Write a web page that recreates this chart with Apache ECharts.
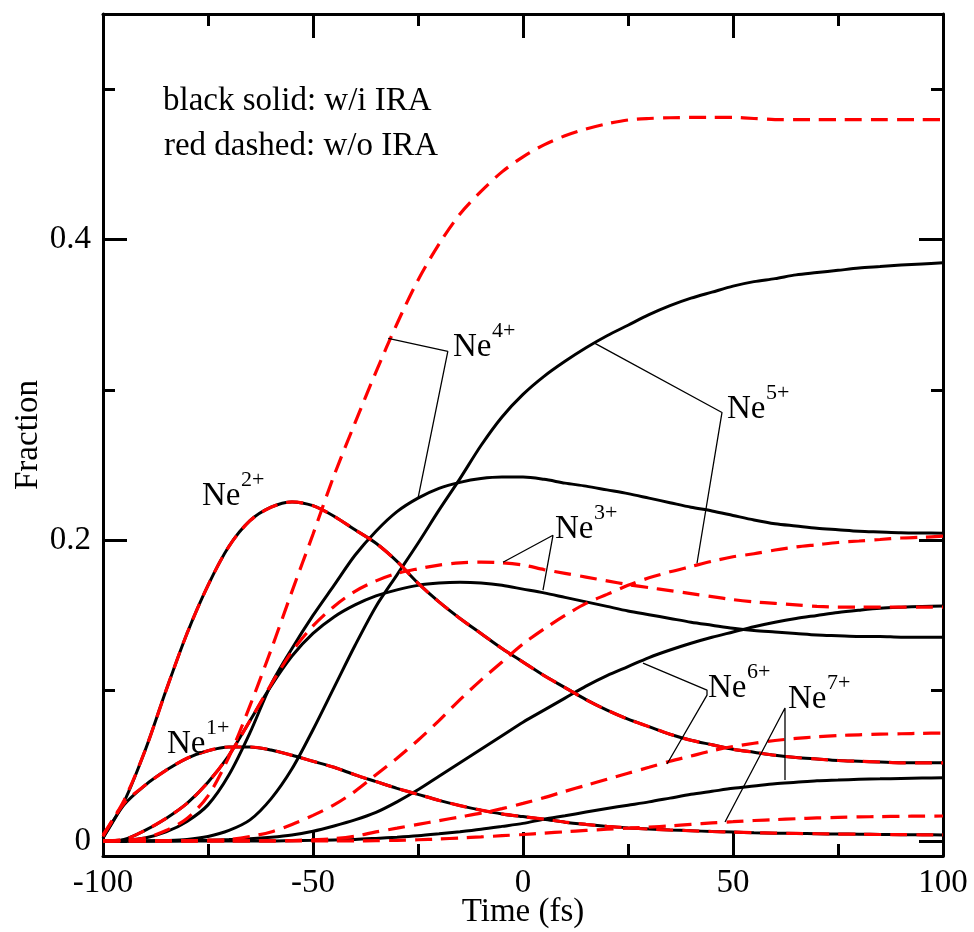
<!DOCTYPE html>
<html>
<head>
<meta charset="utf-8">
<script src="https://cdn.jsdelivr.net/npm/echarts@6/dist/echarts.min.js"></script>
<style>
html,body{margin:0;padding:0;background:#fff;}
#chart{width:974px;height:932px;}
</style>
</head>
<body>
<div id="chart"></div>
<script>
// ---------- data (time in fs, fraction) ----------
const time = [-100,-95,-90,-85,-80,-75,-70,-65,-60,-55,-50,-45,-40,-35,-30,-25,-20,-15,-10,-5,0,5,10,15,20,25,30,35,40,45,50,55,60,65,70,75,80,85,90,95,100];

// black solid: with IRA
const ne1WithIRA = [0.002,0.024,0.037,0.047,0.055,0.060,0.0625,0.0625,0.0605,0.057,0.053,0.049,0.044,0.0395,0.035,0.031,0.027,0.0235,0.0205,0.018,0.0162,0.0145,0.0125,0.011,0.0097,0.0087,0.0079,0.0073,0.0068,0.0063,0.0059,0.0055,0.0052,0.0050,0.0048,0.0046,0.0045,0.0043,0.0042,0.0041,0.0040];
const ne2WithIRA = [0.002,0.026,0.060,0.100,0.138,0.170,0.196,0.213,0.222,0.2255,0.223,0.216,0.207,0.198,0.186,0.1715,0.159,0.148,0.138,0.128,0.119,0.110,0.102,0.094,0.087,0.081,0.076,0.071,0.067,0.064,0.061,0.059,0.057,0.0555,0.0545,0.0535,0.053,0.0525,0.052,0.052,0.052];
const ne3WithIRA = [0,0.001,0.007,0.015,0.025,0.039,0.057,0.080,0.103,0.123,0.138,0.149,0.157,0.163,0.167,0.170,0.1715,0.172,0.1715,0.170,0.1675,0.165,0.162,0.159,0.156,0.153,0.1505,0.148,0.1455,0.1435,0.1415,0.140,0.139,0.138,0.137,0.1365,0.136,0.136,0.1355,0.1355,0.1355];
const ne4WithIRA = [0,0.0005,0.002,0.006,0.013,0.024,0.044,0.072,0.104,0.128,0.150,0.170,0.190,0.206,0.219,0.228,0.2345,0.2385,0.241,0.242,0.242,0.2405,0.238,0.236,0.2335,0.231,0.228,0.225,0.222,0.2195,0.2165,0.2135,0.211,0.2095,0.208,0.207,0.206,0.2055,0.205,0.2048,0.2047];
const ne5WithIRA = [0,0,0,0.0003,0.001,0.003,0.007,0.014,0.028,0.048,0.074,0.102,0.130,0.156,0.177,0.198,0.220,0.241,0.263,0.282,0.297,0.309,0.319,0.328,0.336,0.343,0.350,0.356,0.361,0.365,0.369,0.372,0.374,0.3765,0.378,0.3795,0.381,0.382,0.383,0.3838,0.3845];
const ne6WithIRA = [0,0,0,0,0.0002,0.0005,0.0009,0.0015,0.0025,0.004,0.0065,0.010,0.014,0.019,0.026,0.034,0.043,0.052,0.061,0.070,0.079,0.087,0.095,0.103,0.110,0.116,0.122,0.127,0.1315,0.1355,0.139,0.1425,0.1455,0.148,0.150,0.152,0.1535,0.1548,0.1555,0.156,0.1563];
const ne7WithIRA = [0,0,0,0,0,0,0,0,0,0.0002,0.0004,0.0007,0.001,0.0017,0.0025,0.0035,0.0048,0.0062,0.0078,0.0097,0.0117,0.0145,0.0168,0.0192,0.0216,0.0238,0.026,0.0285,0.031,0.033,0.035,0.0365,0.038,0.039,0.040,0.0405,0.041,0.0413,0.0416,0.0418,0.042];

// red dashed: without IRA
const ne1WithoutIRA = [0.003,0.025,0.037,0.047,0.055,0.060,0.0625,0.0625,0.0605,0.057,0.053,0.049,0.044,0.0395,0.035,0.031,0.027,0.0235,0.0205,0.018,0.0162,0.0145,0.0125,0.011,0.0097,0.0087,0.0079,0.0073,0.0068,0.0063,0.0059,0.0055,0.0052,0.0050,0.0048,0.0046,0.0045,0.0043,0.0042,0.0041,0.0040];
const ne2WithoutIRA = [0.004,0.027,0.060,0.100,0.138,0.170,0.196,0.213,0.222,0.2255,0.223,0.216,0.207,0.198,0.186,0.1715,0.159,0.148,0.138,0.128,0.119,0.110,0.102,0.094,0.087,0.081,0.076,0.071,0.067,0.064,0.061,0.059,0.057,0.0555,0.0545,0.0535,0.053,0.0525,0.052,0.052,0.052];
const ne3WithoutIRA = [0,0.001,0.007,0.015,0.025,0.039,0.057,0.080,0.104,0.126,0.143,0.156,0.166,0.173,0.178,0.181,0.1835,0.185,0.1855,0.185,0.1835,0.1805,0.178,0.1755,0.173,0.1705,0.1685,0.1665,0.1645,0.1625,0.1605,0.159,0.158,0.157,0.156,0.1555,0.1555,0.1555,0.1555,0.1555,0.1555];
const ne4WithoutIRA = [0,0.0005,0.002,0.007,0.015,0.030,0.056,0.090,0.127,0.166,0.204,0.243,0.278,0.312,0.344,0.373,0.397,0.417,0.432,0.445,0.455,0.463,0.469,0.4735,0.477,0.4795,0.4805,0.481,0.4812,0.4812,0.4812,0.4805,0.4798,0.4797,0.4797,0.4797,0.4797,0.4797,0.4797,0.4797,0.4797];
const ne5WithoutIRA = [0,0,0,0,0,0.0005,0.001,0.003,0.006,0.011,0.017,0.024,0.033,0.044,0.055,0.067,0.080,0.094,0.107,0.119,0.131,0.141,0.150,0.158,0.164,0.170,0.175,0.179,0.1825,0.186,0.189,0.191,0.1935,0.1955,0.197,0.1985,0.1995,0.2005,0.2015,0.202,0.2027];
const ne6WithoutIRA = [0,0,0,0,0,0,0,0,0,0.0003,0.0008,0.0015,0.0032,0.006,0.0085,0.011,0.0135,0.016,0.0185,0.0215,0.025,0.0288,0.033,0.037,0.041,0.045,0.049,0.053,0.0565,0.060,0.0628,0.065,0.0668,0.0682,0.0693,0.0701,0.0706,0.071,0.0713,0.0716,0.0718];
const ne7WithoutIRA = [0,0,0,0,0,0,0,0,0,0,0,0,0,0.0002,0.0004,0.0008,0.0013,0.002,0.0027,0.0035,0.0043,0.0052,0.0061,0.007,0.0078,0.0086,0.0092,0.010,0.011,0.012,0.0128,0.0136,0.0142,0.0148,0.0153,0.0157,0.016,0.0162,0.0164,0.0165,0.0166];

// ticks
const xMajorTicks = [-100,-50,0,50,100];
const xMinorTicks = [-75,-25,25,75];
const yMajorTicks = [0,0.2,0.4];
const yMinorTicks = [0.1,0.3,0.5];

// annotations: label anchors (left/middle of "Ne", data coords) and leader polylines
const labelNames = ['1+','2+','3+','4+','5+','6+','7+'];
const labelAnchors = [[-84.76,0.0658],[-76.43,0.2306],[7.62,0.2086],[-16.67,0.3296],[48.57,0.2884],[44.05,0.1030],[63.10,0.0957]];
const leaderNe3 = [[-4.76,0.1854],[7.14,0.2033],[4.76,0.1668]];
const leaderNe4 = [[-32.1,0.3342],[-17.9,0.3256],[-25.0,0.2279]];
const leaderNe5 = [[17.14,0.3309],[47.38,0.2850],[41.43,0.1847]];
const leaderNe6 = [[28.57,0.1183],[43.81,0.1003],[43.81,0.0970],[34.29,0.0512]];
const leaderNe7 = [[48.1,0.0126],[62.38,0.0884],[62.38,0.0405]];
const noteLines = ['black solid: w/i IRA','red dashed: w/o IRA'];
const noteAnchors = [[-85.71,0.4930],[-85.48,0.4631]];

// ---------- chart ----------
const FONT = "'Liberation Serif','Times New Roman',Times,serif";
const chart = echarts.init(document.getElementById('chart'), null, {renderer:'canvas'});

function pairs(vals){ return time.map((t,i)=>[t, vals[i]]); }

function curve(name, vals, dashed){
  return {
    name, type:'line', data: pairs(vals), xAxisIndex:0, yAxisIndex:0,
    showSymbol:false, symbol:'none', smooth:0.3, silent:true,
    lineStyle: dashed ? {color:'#ff0000', width:3.2, type:[17,9]} : {color:'#000000', width:3},
    z: dashed ? 3 : 2
  };
}
function leader(data){
  return {type:'line', data, xAxisIndex:0, yAxisIndex:0, showSymbol:false, symbol:'none', silent:true,
    lineStyle:{color:'#000', width:1.3}, z:4};
}

const tickStyle = {color:'#000', width:3};
const frameLine = {show:true, onZero:false, lineStyle:{color:'#000', width:3}};
const noLine = {show:false, onZero:false};

function xAx(pos, ticks, len, labels, line){
  return {type:'value', position:pos, min:-100, max:100,
    axisLine: line ? frameLine : noLine,
    axisTick:{show:true, inside:true, length:len, lineStyle:tickStyle, customValues:ticks},
    axisLabel: labels ? {show:true, customValues:ticks, fontFamily:FONT, fontSize:33, color:'#000', margin:11} : {show:false},
    splitLine:{show:false}};
}
function yAx(pos, ticks, len, labels, line){
  return {type:'value', position:pos, min:-0.01, max:0.55,
    axisLine: line ? frameLine : noLine,
    axisTick:{show:true, inside:true, length:len, lineStyle:tickStyle, customValues:ticks},
    axisLabel: labels ? {show:true, customValues:ticks, fontFamily:FONT, fontSize:33, color:'#000', margin:12} : {show:false},
    splitLine:{show:false}};
}

const xAxes = [
  Object.assign(xAx('bottom', xMajorTicks, 24, true, true), {name:'Time (fs)', nameLocation:'middle', nameGap:40,
    nameMoveOverlap:false, nameTextStyle:{fontFamily:FONT, fontSize:33, color:'#000'}}),
  xAx('bottom', xMinorTicks, 12, false, false),
  xAx('top', xMajorTicks, 24, false, true),
  xAx('top', xMinorTicks, 12, false, false)
];
const yAxes = [
  Object.assign(yAx('left', yMajorTicks, 24, true, true), {name:'Fraction', nameLocation:'middle', nameGap:58,
    nameMoveOverlap:false, nameTextStyle:{fontFamily:FONT, fontSize:33, color:'#000'}}),
  yAx('left', yMinorTicks, 12, false, false),
  yAx('right', yMajorTicks, 24, false, true),
  yAx('right', yMinorTicks, 12, false, false)
];

const series = [
  curve('Ne1+ w/i IRA', ne1WithIRA, false),
  curve('Ne2+ w/i IRA', ne2WithIRA, false),
  curve('Ne3+ w/i IRA', ne3WithIRA, false),
  curve('Ne4+ w/i IRA', ne4WithIRA, false),
  curve('Ne5+ w/i IRA', ne5WithIRA, false),
  curve('Ne6+ w/i IRA', ne6WithIRA, false),
  curve('Ne7+ w/i IRA', ne7WithIRA, false),
  curve('Ne1+ w/o IRA', ne1WithoutIRA, true),
  curve('Ne2+ w/o IRA', ne2WithoutIRA, true),
  curve('Ne3+ w/o IRA', ne3WithoutIRA, true),
  curve('Ne4+ w/o IRA', ne4WithoutIRA, true),
  curve('Ne5+ w/o IRA', ne5WithoutIRA, true),
  curve('Ne6+ w/o IRA', ne6WithoutIRA, true),
  curve('Ne7+ w/o IRA', ne7WithoutIRA, true),
  leader(leaderNe3), leader(leaderNe4), leader(leaderNe5), leader(leaderNe6), leader(leaderNe7)
];

chart.setOption({
  animation:false,
  backgroundColor:'#fff',
  grid:{left:103, right:31, top:14, bottom:76, containLabel:false, outerBoundsMode:'none'},
  xAxis: xAxes,
  yAxis: yAxes,
  series
});

// text annotations placed via the chart's coordinate conversion
const TEXT_DY = 2;
const graphics = [];
labelNames.forEach((sup, i) => {
  const p = chart.convertToPixel({xAxisIndex:0, yAxisIndex:0}, labelAnchors[i]);
  graphics.push({type:'text', x:p[0], y:p[1] + TEXT_DY, silent:true, z:10,
    style:{text:'Ne', font:'33px ' + FONT, fill:'#000', textAlign:'left', textVerticalAlign:'middle', verticalAlign:'middle'}});
  graphics.push({type:'text', x:p[0] + 39, y:p[1] + TEXT_DY - 16, silent:true, z:10,
    style:{text:sup, font:'22px ' + FONT, fill:'#000', textAlign:'left', textVerticalAlign:'middle', verticalAlign:'middle'}});
});
noteLines.forEach((txt, i) => {
  const p = chart.convertToPixel({xAxisIndex:0, yAxisIndex:0}, noteAnchors[i]);
  graphics.push({type:'text', x:p[0], y:p[1] + TEXT_DY, silent:true, z:10,
    style:{text:txt, font:'33px ' + FONT, fill:'#000', textAlign:'left', textVerticalAlign:'middle', verticalAlign:'middle'}});
});
chart.setOption({graphic: graphics});
</script>
</body>
</html>
